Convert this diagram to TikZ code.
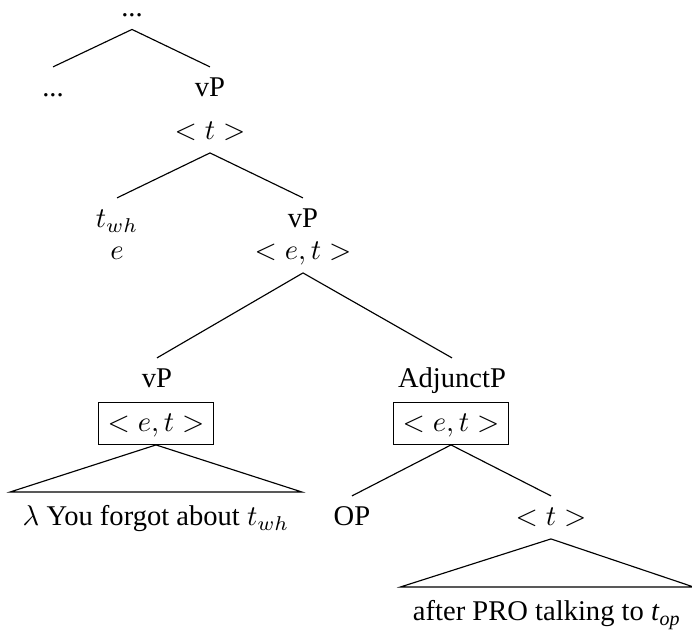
\documentclass[tikz,border=0pt]{standalone}
\usepackage{amsmath}
\usepackage{fontspec}
\setmainfont{Liberation Serif}

\begin{document}
\begin{tikzpicture}[x=3.5pt,y=-3.5pt,
    cat/.style={anchor=base,text height=0.7em,text depth=0.1em},
    typebox/.style={cat,draw},
    yield/.style={cat,inner xsep=4.2pt,inner ysep=4.7pt}]

    \useasboundingbox (0,0) rectangle (69.2,63.1);

    \node[cat] (top)  at (13.2,1.65) {...};
    \node[cat] (dots) at (5.3,9.7)  {...};
    \node[cat] (vpA)  at (21,9.7)   {vP};
    \node[cat] (tA)   at (21,14)    {$<t>$};
    \draw (top.south) -- (dots.north);
    \draw (top.south) -- (vpA.north);

    \node[cat] (twh) at (11.7,22.8) {$t_{wh}$};
    \node[cat] (eA)  at (11.7,26)   {$e$};
    \node[cat] (vpB) at (30.3,22.8) {vP};
    \node[cat] (etB) at (30.3,26)   {$<e,t>$};
    \draw (tA.south) -- (twh.north);
    \draw (tA.south) -- (vpB.north);

    \node[cat]     (vpC)  at (15.7,38.8) {vP};
    \node[typebox] (etC)  at (15.6,43.2) {$<e,t>$};
    \node[cat]     (adjP) at (45.2,38.8) {AdjunctP};
    \node[typebox] (etD)  at (45.1,43.2) {$<e,t>$};
    \draw (etB.south) -- (vpC.north);
    \draw (etB.south) -- (adjP.north);

    % lambda abstract, shown as a triangle
    \node[yield] (lamb) at (15.6,52.6) {$\lambda$ You forgot about $t_{wh}$};
    \draw (etC.south) -- (lamb.north west) -- (lamb.north east) -- cycle;

    \node[cat] (op) at (35.2,52.6) {OP};
    \node[cat] (tB) at (55.1,52.6) {$<t>$};
    \draw (etD.south) -- (op.north);
    \draw (etD.south) -- (tB.north);

    \node[yield] (after) at (54.7,62.1) {after PRO talking to \textit{t}\textsubscript{\textit{op}}};
    \draw (tB.south) -- (after.north west) -- (after.north east) -- cycle;

\end{tikzpicture}
\end{document}
